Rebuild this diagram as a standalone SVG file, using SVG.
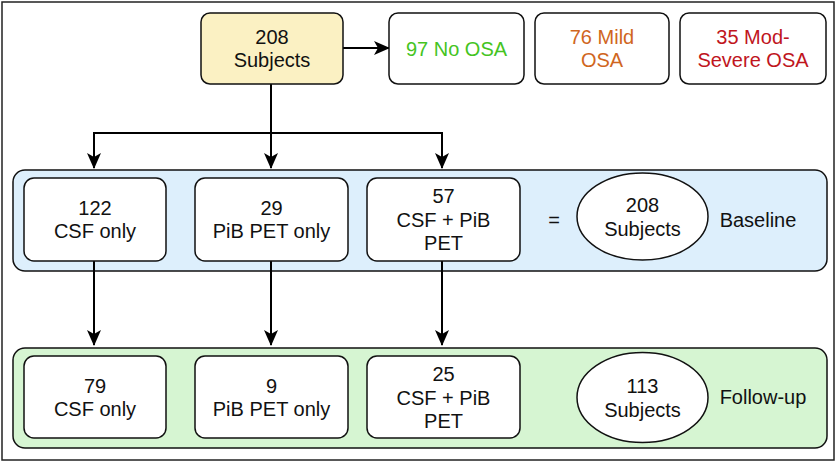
<svg xmlns="http://www.w3.org/2000/svg" width="840" height="463" viewBox="0 0 840 463">
<style>
text{font-family:"Liberation Sans",Arial,sans-serif;font-size:20px;fill:#111;text-anchor:middle}
.box{fill:#fff;stroke:#111;stroke-width:1.5}
.conn{fill:none;stroke:#000;stroke-width:2}
</style>
<defs>
<marker id="ah" viewBox="0 0 16 14" refX="15" refY="7" markerWidth="16" markerHeight="14" markerUnits="userSpaceOnUse" orient="auto">
<path d="M0,0 L16,7 L0,14 L4,7 Z" fill="#000"/>
</marker>
</defs>
<rect x="2" y="2" width="832" height="458" fill="#fff" stroke="#222" stroke-width="1.5"/>
<g id="baseline-panel">
<rect x="13" y="170" width="814" height="101" rx="12" fill="#ddeffc" stroke="#111" stroke-width="1.5"/>
<text x="554" y="227">=</text>
<text x="758" y="227">Baseline</text>
</g>
<g id="followup-panel">
<rect x="13" y="348" width="814" height="100" rx="12" fill="#d6f5d2" stroke="#111" stroke-width="1.5"/>
<text x="763" y="404">Follow-up</text>
</g>
<g id="connectors">
<line class="conn" x1="343" y1="48" x2="389" y2="48" marker-end="url(#ah)"/>
<polyline class="conn" points="271,84 271,133"/>
<polyline class="conn" points="94,150 94,133 442,133 442,150"/>
<line class="conn" x1="94" y1="133" x2="94" y2="168" marker-end="url(#ah)"/>
<line class="conn" x1="271" y1="133" x2="271" y2="168" marker-end="url(#ah)"/>
<line class="conn" x1="442" y1="133" x2="442" y2="168" marker-end="url(#ah)"/>
<line class="conn" x1="94" y1="261" x2="94" y2="345" marker-end="url(#ah)"/>
<line class="conn" x1="271" y1="261" x2="271" y2="345" marker-end="url(#ah)"/>
<line class="conn" x1="442" y1="261" x2="442" y2="345" marker-end="url(#ah)"/>
</g>
<g id="total">
<rect x="201" y="13" width="142" height="71" rx="9" fill="#fbf1c3" stroke="#111" stroke-width="1.5"/>
<text x="272" y="44">208</text>
<text x="272" y="67">Subjects</text>
</g>
<g id="no-osa">
<rect class="box" x="389" y="13" width="135" height="71" rx="9"/>
<text x="456.5" y="55.5" style="fill:#45c41f">97 No OSA</text>
</g>
<g id="mild-osa">
<rect class="box" x="535" y="13" width="134" height="71" rx="9"/>
<text x="602" y="44" style="fill:#d0661e">76 Mild</text>
<text x="602" y="67" style="fill:#d0661e">OSA</text>
</g>
<g id="mod-severe-osa">
<rect class="box" x="680" y="13" width="146" height="71" rx="9"/>
<text x="753" y="44" style="fill:#c0151d">35 Mod-</text>
<text x="753" y="67" style="fill:#c0151d">Severe OSA</text>
</g>
<g id="b-csf">
<rect class="box" x="24" y="178" width="142" height="83" rx="10"/>
<text x="95" y="215">122</text>
<text x="95" y="238">CSF only</text>
</g>
<g id="b-pib">
<rect class="box" x="195" y="178" width="153" height="83" rx="10"/>
<text x="271.5" y="215">29</text>
<text x="271.5" y="238">PiB PET only</text>
</g>
<g id="b-both">
<rect class="box" x="367" y="178" width="153" height="83" rx="10"/>
<text x="443.5" y="203">57</text>
<text x="443.5" y="226.5">CSF + PiB</text>
<text x="443.5" y="250">PET</text>
</g>
<g id="b-total">
<ellipse class="box" cx="642.5" cy="216.5" rx="65.5" ry="43.5"/>
<text x="642.5" y="212">208</text>
<text x="642.5" y="236">Subjects</text>
</g>
<g id="f-csf">
<rect class="box" x="24" y="356" width="142" height="82" rx="10"/>
<text x="95" y="393">79</text>
<text x="95" y="416">CSF only</text>
</g>
<g id="f-pib">
<rect class="box" x="195" y="356" width="153" height="82" rx="10"/>
<text x="271.5" y="393">9</text>
<text x="271.5" y="416">PiB PET only</text>
</g>
<g id="f-both">
<rect class="box" x="367" y="356" width="153" height="82" rx="10"/>
<text x="443.5" y="381">25</text>
<text x="443.5" y="404.5">CSF + PiB</text>
<text x="443.5" y="428">PET</text>
</g>
<g id="f-total">
<ellipse class="box" cx="642.5" cy="397.5" rx="65.5" ry="45"/>
<text x="642.5" y="393">113</text>
<text x="642.5" y="417">Subjects</text>
</g>
</svg>
